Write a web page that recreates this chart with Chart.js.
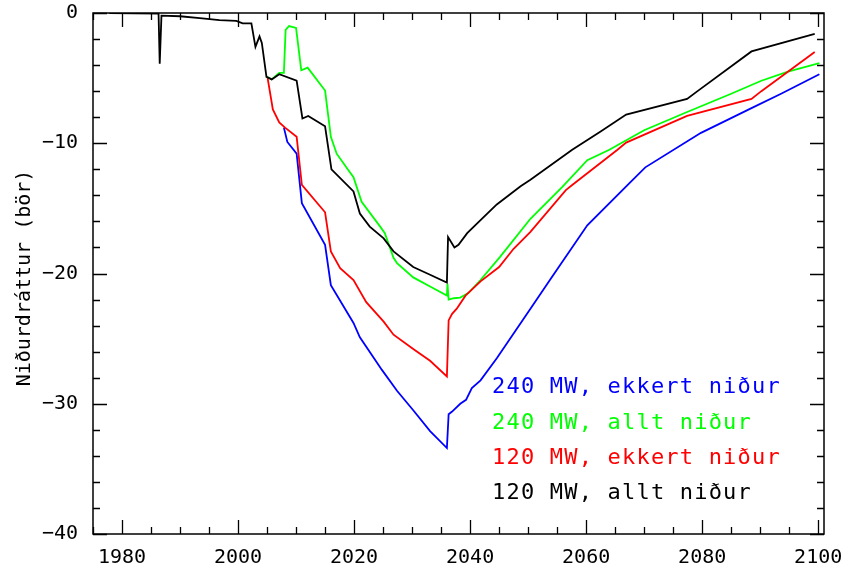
<!DOCTYPE html>
<html>
<head>
<meta charset="utf-8">
<script src="https://cdn.jsdelivr.net/npm/chart.js@4.4.1/dist/chart.umd.min.js"></script>
<style>
  html, body { margin: 0; padding: 0; background: #fff; }
  #wrap { width: 848px; height: 564px; }
</style>
</head>
<body>
<div id="wrap"><canvas id="chart"></canvas></div>
<script>
// tick values
const xTicks = [1980, 2000, 2020, 2040, 2060, 2080, 2100];
const yTicks = [-40, -30, -20, -10, 0];

// series: years + values (bör)
const labels = ['240 MW, ekkert niður', '240 MW, allt niður', '120 MW, ekkert niður', '120 MW, allt niður'];
const colors = ['#0000ff', '#00ff00', '#ff0000', '#000000'];

const blueYears = [2007.9, 2008.5, 2010.1, 2011.0, 2015.0, 2016.0, 2019.9, 2021.0, 2024.8, 2027.4, 2030.2, 2033.1, 2036.0, 2036.3, 2036.9, 2038.3, 2039.3, 2040.3, 2041.8, 2044.6, 2047.5, 2050.4, 2053.9, 2060.2, 2067.6, 2070.2, 2079.8, 2088.5, 2093.6, 2100.2];
const blueVals = [-8.8, -9.9, -10.8, -14.6, -17.8, -20.9, -23.8, -24.9, -27.4, -29.0, -30.5, -32.1, -33.4, -30.8, -30.6, -30.0, -29.7, -28.8, -28.2, -26.5, -24.6, -22.7, -20.4, -16.3, -13.0, -11.85, -9.2, -7.3, -6.2, -4.7];

const greenYears = [2005.0, 2005.8, 2007.1, 2007.9, 2008.2, 2008.8, 2010.0, 2010.9, 2012.0, 2015.0, 2016.0, 2017.0, 2019.0, 2019.9, 2021.3, 2024.5, 2025.3, 2026.8, 2027.4, 2030.2, 2033.1, 2036.0, 2036.1, 2036.3, 2037.2, 2038.3, 2039.7, 2041.8, 2045.2, 2050.4, 2055.9, 2060.2, 2064.0, 2070.0, 2076.9, 2085.0, 2090.2, 2094.8, 2100.2];
const greenVals = [-4.9, -5.1, -4.6, -4.6, -1.3, -1.0, -1.15, -4.4, -4.2, -5.95, -9.5, -10.8, -12.05, -12.6, -14.5, -16.4, -16.9, -18.8, -19.2, -20.3, -21.0, -21.7, -20.8, -22.0, -21.9, -21.85, -21.5, -20.5, -18.7, -15.8, -13.35, -11.3, -10.5, -9.0, -7.7, -6.2, -5.2, -4.5, -3.85];

const redYears = [2005.1, 2006.0, 2007.1, 2008.1, 2010.1, 2011.0, 2015.0, 2016.0, 2017.6, 2019.9, 2022.1, 2025.1, 2026.8, 2030.2, 2033.1, 2036.0, 2036.3, 2036.9, 2037.7, 2039.2, 2041.8, 2045.0, 2047.5, 2050.4, 2056.5, 2057.6, 2065.4, 2066.9, 2077.4, 2088.5, 2090.2, 2099.4];
const redVals = [-5.0, -7.4, -8.4, -8.8, -9.5, -13.2, -15.3, -18.3, -19.6, -20.5, -22.2, -23.7, -24.7, -25.8, -26.7, -27.9, -23.6, -23.1, -22.7, -21.7, -20.6, -19.5, -18.1, -16.8, -13.6, -13.2, -10.5, -9.95, -7.9, -6.6, -6.0, -3.0];

const blackYears = [1977.8, 1986.3, 1986.5, 1986.8, 1990.0, 1993.4, 1996.8, 1999.7, 2000.8, 2002.3, 2003.0, 2003.7, 2004.1, 2004.9, 2005.8, 2007.1, 2010.1, 2011.1, 2012.1, 2015.0, 2016.1, 2019.9, 2021.0, 2022.7, 2025.1, 2026.8, 2030.2, 2033.1, 2036.0, 2036.2, 2037.3, 2038.0, 2039.5, 2041.8, 2044.6, 2048.7, 2050.4, 2057.6, 2062.5, 2066.9, 2077.4, 2079.2, 2088.5, 2099.4];
const blackVals = [0, -0.05, -3.9, -0.2, -0.25, -0.4, -0.55, -0.6, -0.8, -0.8, -2.6, -1.8, -2.3, -4.9, -5.1, -4.7, -5.2, -8.1, -7.9, -8.7, -12.0, -13.7, -15.4, -16.4, -17.3, -18.3, -19.5, -20.1, -20.7, -17.2, -18.0, -17.8, -16.9, -15.9, -14.7, -13.3, -12.8, -10.5, -9.1, -7.8, -6.6, -6.0, -2.95, -1.6];

const seriesYears = [blueYears, greenYears, redYears, blackYears];
const seriesVals = [blueVals, greenVals, redVals, blackVals];

const FONT = '"DejaVu Sans Mono", "Liberation Mono", monospace';

function toPoints(xs, ys) {
    return xs.map((x, i) => ({ x: x, y: ys[i] }));
}

// frame, inward ticks, y title and the coloured text legend
const framePlugin = {
    id: 'frame',
    afterDraw(chart) {
        const ctx = chart.ctx;
        const a = chart.chartArea;
        const xs = chart.scales.x;
        const ys = chart.scales.y;
        ctx.save();
        ctx.strokeStyle = '#000';
        ctx.lineWidth = 1.5;
        ctx.strokeRect(a.left, a.top, a.right - a.left, a.bottom - a.top);

        ctx.lineWidth = 1.3;
        ctx.beginPath();
        for (let v = 1975; v <= 2100; v += 5) {
            const px = Math.round(xs.getPixelForValue(v)) + 0.5;
            const len = v % 20 === 0 ? 14 : 7;
            ctx.moveTo(px, a.bottom); ctx.lineTo(px, a.bottom - len);
            ctx.moveTo(px, a.top); ctx.lineTo(px, a.top + len);
        }
        for (let v = -40; v <= 0; v += 2) {
            const py = Math.round(ys.getPixelForValue(v)) + 0.5;
            const len = v % 10 === 0 ? 14 : 7;
            ctx.moveTo(a.left, py); ctx.lineTo(a.left + len, py);
            ctx.moveTo(a.right, py); ctx.lineTo(a.right - len, py);
        }
        ctx.stroke();

        // y title
        ctx.fillStyle = '#000';
        ctx.font = '20px ' + FONT;
        ctx.textAlign = 'center';
        ctx.textBaseline = 'middle';
        ctx.translate(25, 278);
        ctx.rotate(-Math.PI / 2);
        ctx.fillText('Niðurdráttur (bör)', 0, 0);
        ctx.restore();

        // legend text
        ctx.save();
        ctx.font = '22px ' + FONT;
        ctx.letterSpacing = '1.2px';
        ctx.textAlign = 'left';
        ctx.textBaseline = 'middle';
        const rowY = [387, 423, 458, 493];
        chart.data.datasets.forEach((ds, i) => {
            ctx.fillStyle = ds.borderColor;
            ctx.fillText(ds.label, 492, rowY[i]);
        });
        ctx.restore();
    }
};

const ctx = document.getElementById('chart').getContext('2d');

new Chart(ctx, {
    type: 'line',
    data: {
        datasets: labels.map((lab, i) => ({
            label: lab,
            data: toPoints(seriesYears[i], seriesVals[i]),
            borderColor: colors[i],
            borderWidth: 1.8,
            pointRadius: 0,
            tension: 0,
            fill: false,
            order: 3 - i
        }))
    },
    options: {
        responsive: true,
        maintainAspectRatio: false,
        animation: false,
        layout: { padding: { left: 0, right: 24, top: 13, bottom: 0 } },
        plugins: {
            legend: { display: false },
            tooltip: { enabled: false }
        },
        scales: {
            x: {
                type: 'linear',
                min: 1975,
                max: 2101,
                grid: { display: false },
                border: { display: false },
                afterBuildTicks: (scale) => { scale.ticks = xTicks.map(v => ({ value: v })); },
                afterFit: (scale) => {
                    scale.height = 30;
                    scale.paddingLeft = 0;
                    scale.paddingRight = 0;
                },
                ticks: {
                    color: '#000',
                    padding: 4,
                    maxRotation: 0,
                    font: { family: FONT, size: 20 },
                    callback: (v) => String(v)
                }
            },
            y: {
                type: 'linear',
                min: -40,
                max: 0,
                grid: { display: false },
                border: { display: false },
                afterBuildTicks: (scale) => { scale.ticks = yTicks.map(v => ({ value: v })); },
                afterFit: (scale) => {
                    scale.width = 93;
                    scale.paddingTop = 0;
                    scale.paddingBottom = 0;
                },
                ticks: {
                    color: '#000',
                    padding: 7,
                    font: { family: FONT, size: 20 },
                    callback: (v) => String(v).replace('-', '\u2212')
                }
            }
        }
    },
    plugins: [framePlugin]
});
</script>
</body>
</html>
